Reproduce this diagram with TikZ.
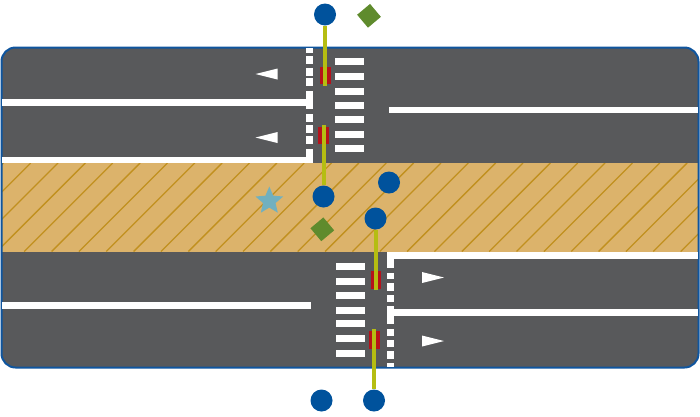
\documentclass[tikz,border=0pt]{standalone}
\usetikzlibrary{shapes.geometric}
\definecolor{roadgray}{HTML}{58595B}
\definecolor{bandtan}{HTML}{DCB36B}
\definecolor{hatchtan}{HTML}{C1901F}
\definecolor{edgeblue}{HTML}{0F559E}
\definecolor{signalblue}{HTML}{00529C}
\definecolor{poleyellow}{HTML}{B5BD12}
\definecolor{headred}{HTML}{B5121B}
\definecolor{signgreen}{HTML}{5F8B2D}
\definecolor{starblue}{HTML}{71B0BF}
\tikzset{
  marking/.style={fill=white},
  signal/.style={circle,fill=signalblue,inner sep=0pt,minimum size=22pt},
  pole/.style={draw=poleyellow,line width=4pt},
  head/.style={fill=headred},
  sign/.style={diamond,fill=signgreen,inner sep=0pt,minimum size=24pt}
}
\begin{document}
\begin{tikzpicture}[x=1pt,y=-1pt]
  \useasboundingbox (0,0) rectangle (700,416);
  % road
  \fill[roadgray,rounded corners=14pt] (1.5,47.5) rectangle (698.5,367.5);
  % median
  \fill[bandtan] (1.5,163) rectangle (698.5,251.5);
  \begin{scope}
    \clip (1.5,163) rectangle (698.5,251.5);
    \foreach \k in {-1,...,28}
      \draw[hatchtan,line width=1.3pt] ({30.7+27.35*\k},163) -- ({-57.8+27.35*\k},251.5);
  \end{scope}
  \draw[edgeblue,line width=2pt,rounded corners=14pt] (1.5,47.5) rectangle (698.5,367.5);
  % lane lines
  \fill[marking] (2,99) rectangle (306,105.5);
  \fill[marking] (2,156.5) rectangle (313,163);
  \fill[marking] (389,106.5) rectangle (698,113);
  \fill[marking] (2,302) rectangle (310.5,309);
  \fill[marking] (386.5,252) rectangle (698,259);
  \fill[marking] (386.5,309) rectangle (698,316);
  % stop lines
  \foreach \ya/\yb in {48/52.5,56/64,68/75.5,78/86,91/109,113.5/121.5,125/133,135.5/144,149/163}
    \fill[marking] (306,\ya) rectangle (313,\yb);
  \foreach \ya/\yb in {252/267.5,272.5/279,283/290.5,294.5/302,305.5/323.5,328.5/336,339.5/347,351/358.5,362.5/366.5}
    \fill[marking] (386.5,\ya) rectangle (393.5,\yb);
  % crosswalks
  \foreach \ya in {58,73,88,101.5,116,130.5,145}
    \fill[marking] (335,\ya) rectangle (363.5,\ya+7);
  \foreach \ya in {263,277.5,292,306.5,319.5,335,350}
    \fill[marking] (336,\ya) rectangle (364.5,\ya+7);
  % lane arrows
  \fill[marking] (255.5,74) -- (277.5,68.5) -- (277.5,79.5) -- cycle;
  \fill[marking] (255.5,137.5) -- (277.5,132) -- (277.5,143) -- cycle;
  \fill[marking] (444,277.5) -- (422,272) -- (422,283) -- cycle;
  \fill[marking] (444,341) -- (422,335.5) -- (422,346.5) -- cycle;
  % signal heads
  \fill[head] (320,66.5) rectangle (330.5,84);
  \fill[head] (318,126.5) rectangle (329,144);
  \fill[head] (370.5,270.5) rectangle (381,288.5);
  \fill[head] (369,331) rectangle (379.5,348.5);
  % signals
  \node[signal] (signala) at (325,14.5) {};
  \node[signal] (signalb) at (323.5,196.5) {};
  \node[signal] (signalc) at (389,182.5) {};
  \node[signal] (signald) at (375.5,218.5) {};
  \node[signal] (signale) at (374,400.5) {};
  \node[signal] (signalf) at (321.5,400.5) {};
  \coordinate (enda) at (325,86);
  \coordinate (endb) at (323.5,125);
  \coordinate (endd) at (375.5,290);
  \coordinate (ende) at (374,329);
  \draw[pole] (signala) -- (enda);
  \draw[pole] (signalb) -- (endb);
  \draw[pole] (signald) -- (endd);
  \draw[pole] (signale) -- (ende);
  % signs
  \node[sign,rotate=-5] (signn) at (369,15.8) {};
  \node[sign,rotate=-5] (signs) at (322.3,229.3) {};
  \node[star,star points=5,star point ratio=2.2,fill=starblue,inner sep=0pt,minimum size=29pt] (mark) at (269.3,201) {};
\end{tikzpicture}
\end{document}
